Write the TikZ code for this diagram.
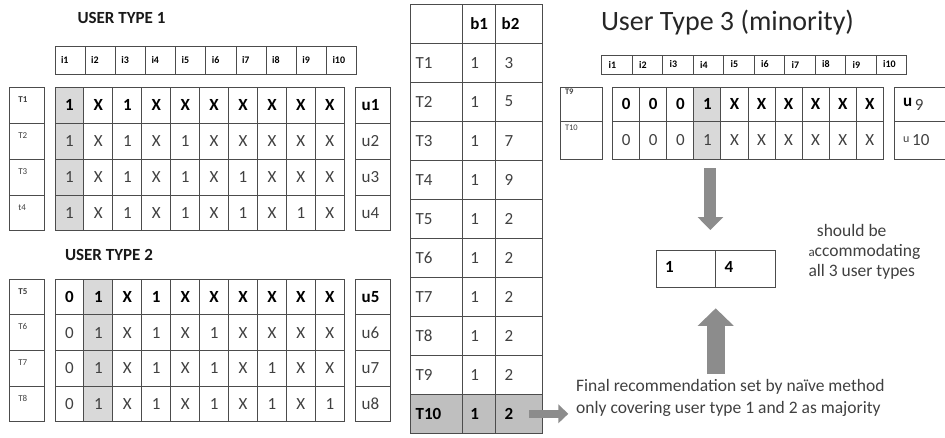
\documentclass[tikz,border=0pt]{standalone}
\usepackage{fontspec}
\setmainfont{Carlito}
\usetikzlibrary{arrows.meta,positioning}

\definecolor{inkgray}{RGB}{64,64,64}
\definecolor{colshade}{RGB}{217,217,217}
\definecolor{rowshade}{RGB}{191,191,191}
\definecolor{arrowfill}{RGB}{140,140,140}

\begin{document}
\begin{tikzpicture}[
    x=1pt, y=-1pt,
    box/.style={
      draw=black!70,
      line width=0.9pt,
      anchor=north west,
      inner sep=0pt,
      outer sep=0pt
    },
    gcell/.style={box, minimum width=28.93pt, minimum height=35.9pt,
      font=\fontsize{17}{17}\selectfont, text=inkgray},
    gbold/.style={gcell, font=\bfseries\fontsize{17}{17}\selectfont, text=black},
    hcell/.style={box, inner xsep=6pt, minimum height=28pt, align=left,
      font=\bfseries\fontsize{10}{10}\selectfont},
    lcell/.style={box, inner xsep=9pt, text width=17pt, align=left,
      text height=15pt, text depth=20.9pt,
      font=\fontsize{9}{9}\selectfont, text=inkgray},
    ucell/.style={box, inner xsep=6pt, text width=23pt, align=left,
      minimum height=35.9pt, font=\fontsize{17}{17}\selectfont, text=inkgray},
    mcell/.style={box, minimum height=39.03pt, align=left,
      font=\fontsize{17}{17}\selectfont, text=inkgray},
    mbold/.style={mcell, fill=rowshade, text=black,
      font=\bfseries\fontsize{17}{17}\selectfont},
    rcell/.style={box, inner xsep=9pt, text width=41.7pt, align=left,
      text height=22pt, text depth=15.3pt,
      font=\bfseries\fontsize{17}{17}\selectfont},
    title/.style={font=\bfseries\fontsize{17}{17}\selectfont, text=black!90},
    note/.style={anchor=west, align=left, inner sep=0pt, text=inkgray},
    fatarrow/.style n args={3}{draw=arrowfill, line width=#1,
      -{Triangle[width=#2, length=#3]}}
  ]
    \useasboundingbox (0,0) rectangle (945,437);

    % ---- user type 1
    \node[title] (title1) at (121.5,18) {USER TYPE 1};
    \foreach \n [count=\c from 0] in {1,...,10}
      \node[hcell, text width=18.17pt] (h1-\n) at ({55+30.17*\c},46) {i\n};

    \fill[colshade] (55,87.3) rectangle +(28.93,143.6);
    \foreach \v [count=\c from 0] in {1,X,1,X,X,X,X,X,X,X}
      \node[gbold] (a1-\c) at ({55+28.93*\c},87.3) {\v};
    \foreach \v [count=\c from 0] in {1,X,1,X,1,X,X,X,X,X}
      \node[gcell] (a2-\c) at ({55+28.93*\c},123.2) {\v};
    \foreach \v [count=\c from 0] in {1,X,1,X,1,X,1,X,X,X}
      \node[gcell] (a3-\c) at ({55+28.93*\c},159.1) {\v};
    \foreach \v [count=\c from 0] in {1,X,1,X,1,X,1,X,1,X}
      \node[gcell] (a4-\c) at ({55+28.93*\c},195.0) {\v};

    \node[lcell, font=\bfseries\fontsize{9}{9}\selectfont] (la-1) at (9.3,87.3) {T1};
    \node[lcell] (la-2) at (9.3,123.2) {T2};
    \node[lcell] (la-3) at (9.3,159.1) {T3};
    \node[lcell] (la-4) at (9.3,195.0) {t4};

    \node[ucell, font=\bfseries\fontsize{17}{17}\selectfont, text=black] (ua-1) at (355.7,87.3) {u1};
    \node[ucell] (ua-2) at (355.7,123.2) {u2};
    \node[ucell] (ua-3) at (355.7,159.1) {u3};
    \node[ucell] (ua-4) at (355.7,195.0) {u4};

    % ---- user type 2
    \node[title] (title2) at (109,255) {USER TYPE 2};
    \fill[colshade] (83.93,279.3) rectangle +(28.93,142.4);
    \foreach \v [count=\c from 0] in {0,1,X,1,X,X,X,X,X,X}
      \node[gbold, minimum height=35.6pt] (b1-\c) at ({55+28.93*\c},279.3) {\v};
    \foreach \v [count=\c from 0] in {0,1,X,1,X,1,X,X,X,X}
      \node[gcell, minimum height=35.6pt] (b2-\c) at ({55+28.93*\c},314.9) {\v};
    \foreach \v [count=\c from 0] in {0,1,X,1,X,1,X,1,X,X}
      \node[gcell, minimum height=35.6pt] (b3-\c) at ({55+28.93*\c},350.5) {\v};
    \foreach \v [count=\c from 0] in {0,1,X,1,X,1,X,1,X,1}
      \node[gcell, minimum height=35.6pt] (b4-\c) at ({55+28.93*\c},386.1) {\v};

    \node[lcell, text depth=20.6pt, font=\bfseries\fontsize{9}{9}\selectfont] (lb-1) at (9.3,279.3) {T5};
    \node[lcell, text depth=20.6pt] (lb-2) at (9.3,314.9) {T6};
    \node[lcell, text depth=20.6pt] (lb-3) at (9.3,350.5) {T7};
    \node[lcell, text depth=20.6pt] (lb-4) at (9.3,386.1) {T8};

    \node[ucell, minimum height=35.6pt, font=\bfseries\fontsize{17}{17}\selectfont, text=black] (ub-1) at (355.7,279.3) {u5};
    \node[ucell, minimum height=35.6pt] (ub-2) at (355.7,314.9) {u6};
    \node[ucell, minimum height=35.6pt] (ub-3) at (355.7,350.5) {u7};
    \node[ucell, minimum height=35.6pt] (ub-4) at (355.7,386.1) {u8};

    % ---- bundle table
    \node[mcell, inner xsep=5pt, text width=41.6pt] (m0-0) at (410.7,4) {};
    \node[mcell, inner xsep=8pt, text width=17.4pt, font=\bfseries\fontsize{17}{17}\selectfont, text=black] (m0-1) at (462.3,4) {b1};
    \node[mcell, inner xsep=6pt, text width=34.6pt, font=\bfseries\fontsize{17}{17}\selectfont, text=black] (m0-2) at (495.7,4) {b2};
    \foreach \b [count=\k] in {3,5,7,9,2,2,2,2,2} {
      \node[mcell, inner xsep=5pt, text width=41.6pt] (m\k-0) at (410.7,{4+39.03*\k}) {T\k};
      \node[mcell, inner xsep=8pt, text width=17.4pt] (m\k-1) at (462.3,{4+39.03*\k}) {1};
      \node[mcell, inner xsep=9pt, text width=28.6pt] (m\k-2) at (495.7,{4+39.03*\k}) {\b};
    }
    \node[mbold, inner xsep=5pt, text width=41.6pt] (m10-0) at (410.7,394.3) {T10};
    \node[mbold, inner xsep=8pt, text width=17.4pt] (m10-1) at (462.3,394.3) {1};
    \node[mbold, inner xsep=9pt, text width=28.6pt] (m10-2) at (495.7,394.3) {2};

    % ---- user type 3
    \node[font=\fontsize{28}{28}\selectfont, text=black!85] (title3) at (727.5,23) {User Type 3 (minority)};
    \foreach \n [count=\c from 0] in {1,...,10}
      \node[hcell, inner xsep=7pt, minimum height=19pt, text width=16.5pt] (h3-\n) at ({601.7+30.5*\c},55) {i\n};

    \fill[colshade] (693.9,87.3) rectangle +(27.06,72);
    \foreach \v [count=\c from 0] in {0,0,0,1,X,X,X,X,X,X}
      \node[gbold, minimum width=27.06pt, minimum height=34.2pt] (c1-\c) at ({612.7+27.06*\c},87.3) {\v};
    \foreach \v [count=\c from 0] in {0,0,0,1,X,X,X,X,X,X}
      \node[gcell, minimum width=27.06pt, minimum height=37.8pt] (c2-\c) at ({612.7+27.06*\c},121.5) {\v};

    \node[lcell, inner xsep=5pt, text width=32.3pt, text height=7pt, text depth=27.2pt,
      font=\bfseries\fontsize{8.5}{8.5}\selectfont] (lc-1) at (560,87.3) {T9};
    \node[lcell, inner xsep=5pt, text width=32.3pt, text height=9pt, text depth=28.8pt,
      font=\fontsize{8.5}{8.5}\selectfont] (lc-2) at (560,121.5) {T10};

    \node[ucell, inner xsep=9pt, text width=34pt, minimum height=34.2pt] (uc-1) at (894,87.3)
      {\textbf{\textcolor{black}{u}}\,\raisebox{-4pt}{9}};
    \node[ucell, inner xsep=9pt, text width=34pt, minimum height=37.8pt] (uc-2) at (894,121.5)
      {{\fontsize{12}{12}\selectfont\raisebox{3pt}{u}}\,10};

    % ---- recommendation
    \node[rcell] (res1) at (656,250) {1};
    \node[rcell] (res2) at (715.7,250) {4};

    \node[note, font=\fontsize{17.5}{19.8}\selectfont] (goal) at (808.3,252)
      {\hspace{8.4pt}should be\\{\fontsize{13}{13}\selectfont a}ccommodating\\all 3 user types};
    \node[note, font=\fontsize{17.5}{21.7}\selectfont] (naive) at (576,398.2)
      {Final recommendation set by naïve method\\only covering user type 1 and 2 as majority};

    \draw[fatarrow={12pt}{25pt}{13pt}] ([xshift=3pt,yshift=-9pt]c2-3.south) -- ([xshift=3pt,yshift=20pt]c2-3.south |- res1.north);
    \draw[fatarrow={18pt}{35pt}{17.5pt}] ([yshift=6pt]res1.south east |- naive.north) -- ([yshift=-21pt]res1.south east);
    \draw[fatarrow={8.4pt}{18.4pt}{10pt}] ([xshift=-13pt]m10-2.east) -- ([xshift=-7.7pt]m10-2.east -| naive.west);
\end{tikzpicture}
\end{document}
